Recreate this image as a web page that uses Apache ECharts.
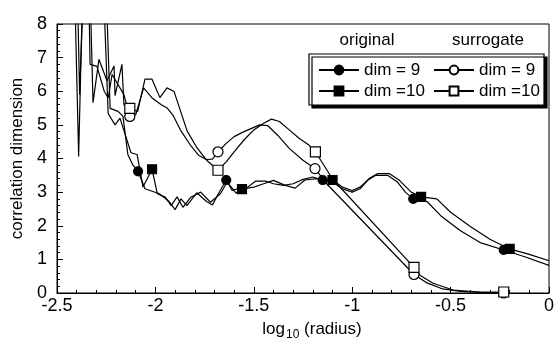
<!DOCTYPE html>
<html>
<head>
<meta charset="utf-8">
<script src="https://cdn.jsdelivr.net/npm/echarts@6/dist/echarts.min.js"></script>
<style>
html,body{margin:0;padding:0;background:#fff}
#chart{width:559px;height:346px}
</style>
</head>
<body>
<div id="chart"></div>
<script>
// axis ranges
var xRange = [-2.5, 0];
var yRange = [0, 8];

// original data, embedding dim 9 and 10 : [log10(radius), correlation dimension]
var origDim9 = [
  [-2.46,10],[-2.41,9],[-2.39,4.06],[-2.37,9],[-2.30,10],[-2.25,9],[-2.23,5.49],[-2.19,5.4],
  [-2.165,5.26],[-2.14,4.12],[-2.114,3.8],[-2.088,3.62],[-2.053,3.1],[-1.98,2.95],[-1.93,2.72],
  [-1.90,2.48],[-1.87,2.8],[-1.84,2.6],[-1.79,2.98],[-1.74,2.72],[-1.71,2.62],[-1.68,2.95],
  [-1.64,3.36],[-1.61,3.05],[-1.58,3.1],[-1.53,3.15],[-1.49,3.33],[-1.44,3.33],[-1.40,3.25],
  [-1.35,3.2],[-1.30,3.25],[-1.25,3.38],[-1.20,3.45],[-1.15,3.36],[-1.10,3.3],[-1.05,3.1],
  [-1.00,3.0],[-0.96,3.1],[-0.92,3.36],[-0.88,3.5],[-0.82,3.5],[-0.77,3.3],[-0.73,3.0],
  [-0.69,2.8],[-0.62,2.72],[-0.55,2.3],[-0.45,1.85],[-0.35,1.5],[-0.23,1.28],[-0.12,1.07],[0,0.82]
];
var origDim10 = [
  [-2.46,10],[-2.40,10],[-2.385,5.9],[-2.36,10],[-2.27,10],[-2.24,5.34],[-2.205,5.0],[-2.18,5.2],
  [-2.124,4.17],[-2.093,4.12],[-2.063,3.15],[-2.017,3.68],[-1.99,2.95],[-1.95,2.85],[-1.92,2.6],
  [-1.89,2.86],[-1.86,2.55],[-1.82,2.85],[-1.77,3.0],[-1.72,2.7],[-1.67,2.95],[-1.635,3.3],
  [-1.59,2.97],[-1.56,3.09],[-1.50,3.15],[-1.45,3.25],[-1.40,3.35],[-1.34,3.2],[-1.29,3.12],
  [-1.24,3.36],[-1.18,3.4],[-1.10,3.36],[-1.05,3.15],[-1.00,3.05],[-0.96,3.15],[-0.91,3.42],
  [-0.87,3.55],[-0.81,3.55],[-0.76,3.35],[-0.70,3.0],[-0.65,2.86],[-0.57,2.8],[-0.50,2.4],
  [-0.40,1.98],[-0.30,1.6],[-0.20,1.31],[-0.10,1.15],[0,0.96]
];
// surrogate data
var surrDim9 = [
  [-2.46,10],[-2.34,9.5],[-2.332,6.8],[-2.297,6.74],[-2.26,6.0],[-2.24,5.8],[-2.22,6.5],[-2.19,6.2],
  [-2.16,5.9],[-2.13,5.25],[-2.10,5.3],[-2.06,6.1],[-2.017,5.8],[-1.97,5.6],[-1.94,5.5],[-1.91,5.28],
  [-1.87,4.82],[-1.82,4.38],[-1.78,4.09],[-1.74,3.97],[-1.71,3.98],[-1.682,4.2],[-1.64,4.45],
  [-1.60,4.65],[-1.55,4.8],[-1.47,5.0],[-1.43,4.98],[-1.38,4.7],[-1.32,4.3],[-1.25,3.95],
  [-1.189,3.7],[-1.13,3.25],[-0.686,0.55],[-0.62,0.3],[-0.54,0.12],[-0.45,0.05],[-0.35,0.02],[-0.23,0.0]
];
var surrDim10 = [
  [-2.46,10],[-2.33,8.6],[-2.317,5.66],[-2.287,6.95],[-2.246,6.31],[-2.21,6.75],[-2.205,5.87],
  [-2.17,6.8],[-2.16,5.6],[-2.13,5.49],[-2.09,5.4],[-2.053,6.36],[-2.017,6.36],[-1.977,5.81],
  [-1.941,6.10],[-1.905,5.99],[-1.839,4.82],[-1.789,4.32],[-1.738,3.94],[-1.682,3.65],[-1.64,3.9],
  [-1.60,4.2],[-1.55,4.55],[-1.50,4.85],[-1.45,5.05],[-1.41,5.17],[-1.37,5.1],[-1.32,4.85],
  [-1.27,4.6],[-1.22,4.4],[-1.187,4.2],[-1.10,3.39],[-0.686,0.76],[-0.656,0.53],[-0.589,0.29],
  [-0.488,0.09],[-0.351,0.03],[-0.23,0.03]
];
// x positions where a marker is drawn
var origDim9Marks = [-2.088, -1.64, -1.15, -0.69, -0.23];
var origDim10Marks = [-2.017, -1.56, -1.10, -0.65, -0.20];
var surrDim9Marks = [-2.13, -1.682, -1.189, -0.686, -0.23];
var surrDim10Marks = [-2.13, -1.682, -1.187, -0.686, -0.23];

var FONT = '"Liberation Sans", Arial, Helvetica, sans-serif';

function markData(points, marks) {
  return points.map(function (p) {
    return marks.indexOf(p[0]) >= 0 ? { value: p } : { value: p, symbol: 'none' };
  });
}

function lineSeries(name, points, marks, symbol, filled, size) {
  return {
    name: name,
    type: 'line',
    data: markData(points, marks),
    symbol: symbol,
    symbolSize: size,
    showSymbol: true,
    clip: true,
    lineStyle: { color: '#000', width: 1.2 },
    itemStyle: { color: filled ? '#000' : '#fff', borderColor: '#000', borderWidth: 1.2, opacity: 1 },
    emphasis: { disabled: true },
    silent: true
  };
}

var myChart = echarts.init(document.getElementById('chart'));
var option = {
  animation: false,
  grid: { left: 57, right: 10, top: 24, bottom: 48, show: true, borderColor: '#000', borderWidth: 1 },
  xAxis: {
    type: 'value',
    min: xRange[0], max: xRange[1], interval: 0.5,
    name: '{a|log}{s|10}{a| (radius)}',
    nameLocation: 'middle',
    nameGap: 24,
    nameTextStyle: {
      padding: [0, 0, 0, 18],
      rich: {
        a: { fontSize: 17, fontFamily: FONT, color: '#000' },
        s: { fontSize: 12, fontFamily: FONT, color: '#000', padding: [12, 0, 0, 1] }
      }
    },
    axisLine: { onZero: false, lineStyle: { color: '#000', width: 1 } },
    axisTick: { inside: true, length: 6, lineStyle: { color: '#000' } },
    minorTick: { show: true, splitNumber: 5, length: 3, lineStyle: { color: '#000' } },
    splitLine: { show: false },
    axisLabel: { fontSize: 18, fontFamily: FONT, color: '#000', margin: 4 }
  },
  yAxis: {
    type: 'value',
    min: yRange[0], max: yRange[1], interval: 1,
    name: 'correlation dimension',
    nameLocation: 'middle',
    nameGap: 21,
    nameTextStyle: { fontSize: 17, fontFamily: FONT, color: '#000' },
    axisLine: { show: true, onZero: false, lineStyle: { color: '#000', width: 1 } },
    axisTick: { inside: true, length: 6, lineStyle: { color: '#000' } },
    minorTick: { show: true, splitNumber: 5, length: 3, lineStyle: { color: '#000' } },
    splitLine: { show: false },
    axisLabel: { fontSize: 18, fontFamily: FONT, color: '#000', margin: 10 }
  },
  legend: [
    {
      data: ['original dim = 9', 'original dim =10'],
      orient: 'vertical', left: 313, top: 56, z: 10,
      itemWidth: 40, itemHeight: 11, itemGap: 3,
      selectedMode: false,
      formatter: function (n) { return n.replace('original ', ''); },
      textStyle: { fontSize: 17, lineHeight: 18, fontFamily: FONT, color: '#000' }
    },
    {
      data: ['surrogate dim = 9', 'surrogate dim =10'],
      orient: 'vertical', left: 428, top: 56, z: 10,
      itemWidth: 40, itemHeight: 11, itemGap: 3,
      selectedMode: false,
      formatter: function (n) { return n.replace('surrogate ', ''); },
      textStyle: { fontSize: 17, lineHeight: 18, fontFamily: FONT, color: '#000' }
    }
  ],
  graphic: [
    {
      type: 'rect', z: 5,
      shape: { x: 309, y: 54, width: 235, height: 51 },
      style: { fill: '#fff', stroke: '#000', lineWidth: 1.2, shadowColor: '#000', shadowOffsetX: 3, shadowOffsetY: 3, shadowBlur: 0 }
    },
    {
      type: 'text', z: 5, x: 367, y: 40,
      style: { text: 'original', fill: '#000', font: '17px ' + FONT, align: 'center', verticalAlign: 'middle' }
    },
    {
      type: 'text', z: 5, x: 488, y: 40,
      style: { text: 'surrogate', fill: '#000', font: '17px ' + FONT, align: 'center', verticalAlign: 'middle' }
    }
  ],
  series: [
    lineSeries('original dim = 9', origDim9, origDim9Marks, 'circle', true, 9),
    lineSeries('original dim =10', origDim10, origDim10Marks, 'rect', true, 9),
    lineSeries('surrogate dim = 9', surrDim9, surrDim9Marks, 'circle', false, 10),
    lineSeries('surrogate dim =10', surrDim10, surrDim10Marks, 'rect', false, 10)
  ]
};
myChart.setOption(option);
</script>
</body>
</html>
